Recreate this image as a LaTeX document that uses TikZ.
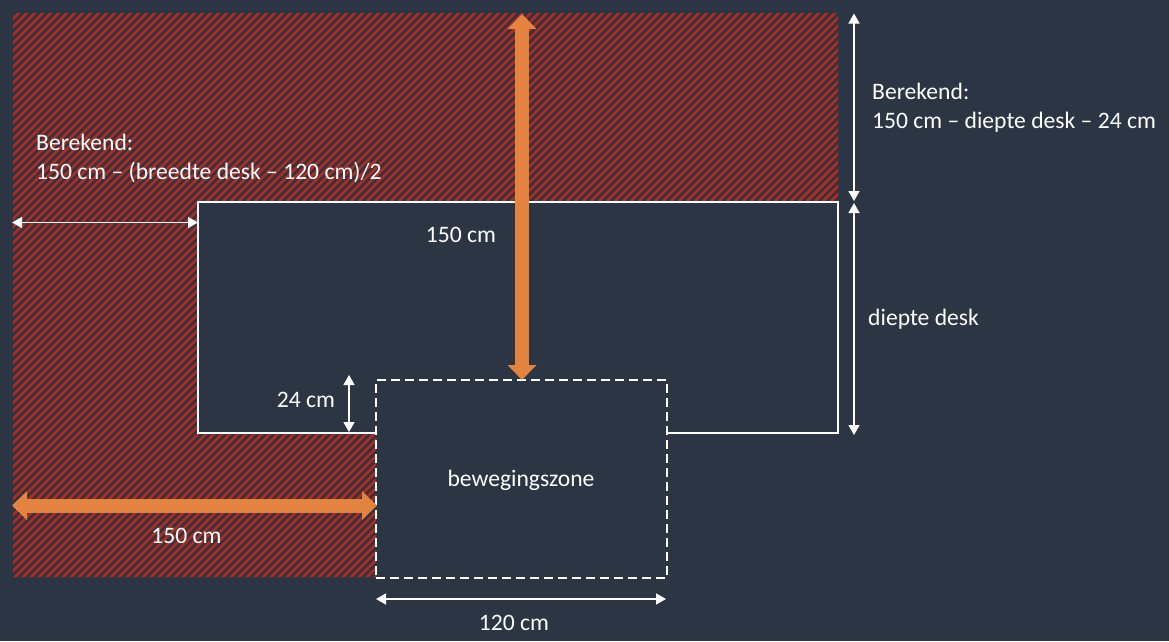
\documentclass[tikz,border=0pt]{standalone}
\usepackage{fontspec}
\setmainfont{Carlito}
\usetikzlibrary{arrows.meta}
\definecolor{bg}{HTML}{2B3544}
\definecolor{hatchred}{HTML}{B52A1D}
\definecolor{orng}{HTML}{E2843F}
\begin{document}
\begin{tikzpicture}[x=1pt,y=-1pt,
  lbl/.style={text=white, font=\fontsize{23.6}{29}\selectfont, inner sep=0pt},
  thinarrow/.style={draw=white, line width=1.3pt, {Triangle[length=10pt,width=11pt]}-{Triangle[length=10pt,width=11pt]}},
  bigarrow/.style={draw=orng, line width=14pt, {Triangle[length=15pt,width=28pt]}-{Triangle[length=15pt,width=28pt]}},
  deskline/.style={draw=white, line width=2pt},
  zonebox/.style={draw=white, dash pattern=on 9pt off 5pt, line width=2pt, inner sep=0pt, minimum width=291pt, minimum height=198pt}]
\fill[bg] (0,0) rectangle (1169,641);
\useasboundingbox (0,0) rectangle (1169,641);
% hatched zone
\begin{scope}
\clip (13,13) -- (838,13) -- (838,202) -- (198,202) -- (198,433) -- (376,433) -- (376,577) -- (13,577) -- cycle;
\foreach \k in {-600,-592,...,850} \draw[hatchred, line width=2.8pt] (\k,600) -- ++(600,-600);
\end{scope}
% desk outline
\draw[deskline] (376,433) -- (198,433) -- (198,202) -- (838,202) -- (838,433) -- (667,433);
% movement zone
\node[zonebox] (bz) at (521.5,479) {};
\node[lbl, anchor=base] (bzlabel) at (521,486) {bewegingszone};
% coordinates
\coordinate (vT) at (522,14);
\coordinate (vB) at (522,380);
\coordinate (hL) at (12,505.5);
\coordinate (hR) at (377,505.5);
\coordinate (lA) at (12,222.5);
\coordinate (lB) at (198,222.5);
\coordinate (rA) at (854,13.5);
\coordinate (rB) at (854,201);
\coordinate (rC) at (854,203);
\coordinate (rD) at (854,435);
\coordinate (sA) at (349,375);
\coordinate (sB) at (349,432);
\coordinate (wA) at (376,599);
\coordinate (wB) at (666,599);
% arrows
\draw[bigarrow] (vT) -- (vB);
\draw[bigarrow] (hL) -- (hR);
\draw[thinarrow] (lA) -- (lB);
\draw[thinarrow] (rA) -- (rB);
\draw[thinarrow] (rC) -- (rD);
\draw[thinarrow] (sA) -- (sB);
\draw[thinarrow] (wA) -- (wB);
% labels
\node[lbl, anchor=base west] (cl1) at (36,150) {Berekend:};
\node[lbl, anchor=base west] (cl2) at (36,179) {150 cm – (breedte desk – 120 cm)/2};
\node[lbl, anchor=base west] (cr1) at (872,99) {Berekend:};
\node[lbl, anchor=base west] (cr2) at (872,128) {150 cm – diepte desk – 24 cm};
\node[lbl, anchor=base] (d150) at (461,242) {150 cm};
\node[lbl, anchor=base west] (dd) at (868,325) {diepte desk};
\node[lbl, anchor=base] (d24) at (306,407) {24 cm};
\node[lbl, anchor=base] (b150) at (186.5,543) {150 cm};
\node[lbl, anchor=base] (w120) at (514,630) {120 cm};
\end{tikzpicture}
\end{document}
